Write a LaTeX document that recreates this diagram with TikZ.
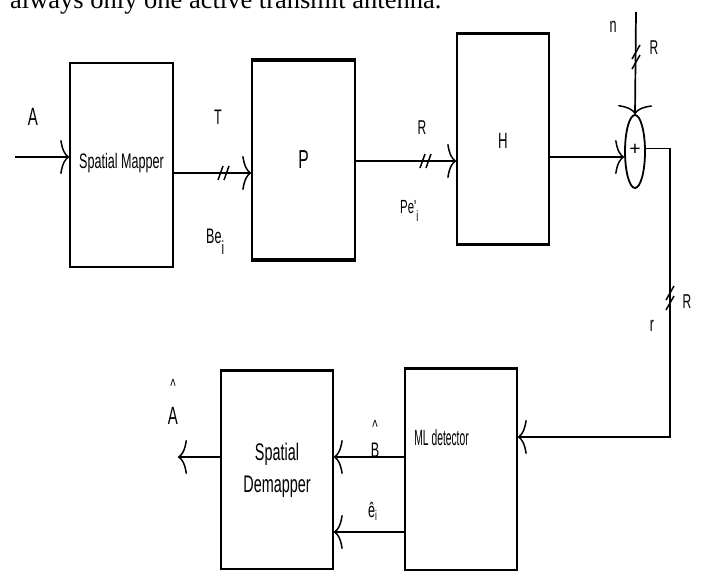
\documentclass[tikz,border=0pt]{standalone}
\usepackage{fontspec}
\setmainfont{Liberation Serif}
\newfontfamily\lblfont[FakeStretch=0.6]{Liberation Sans}
\usetikzlibrary{arrows.meta,shapes.geometric}

\tikzset{
  tip/.tip={Computer Modern Rightarrow[length=9pt,width=34pt,line width=1.5pt]},
  blk/.style={draw,line width=1.6pt,inner sep=0pt,font=\lblfont\fontsize{21}{24}\selectfont},
  lbl/.style={inner sep=0pt,font=\lblfont\fontsize{21}{24}\selectfont},
  sig/.style={line width=2.8pt,-tip},
  wire/.style={line width=1.7pt,-tip},
  busmark/.pic={\draw[line width=1.5pt] (-7,7) -- (-2,-7) (-1,7) -- (4,-7);},
  vbusmark/.pic={\draw[line width=1.5pt] (-4,2) -- (4,-12) (-4,12) -- (4,-2);},
}

\begin{document}
\begin{tikzpicture}[x=1pt,y=-1pt]
    \clip (0,0) rectangle (701,572);
    % line of text cut off at the top
    \node[anchor=base west,inner sep=0pt,font=\fontsize{26.5}{30}\selectfont] (toptext) at (10,9) {always only one active transmit antenna.};

    % Transmitter chain
    \node[blk,minimum width=103pt,minimum height=204pt] (mapper) at (121.5,165) {\raisebox{8pt}{Spatial Mapper}};
    \node[blk,minimum width=103pt,minimum height=198pt] (prec) at (303.5,160) {\fontsize{26}{28}\selectfont\raisebox{-17pt}{P}};
    \draw[line width=4pt] (prec.north west) -- (prec.north east);
    \draw[line width=4pt] (prec.south west) -- (prec.south east);
    \node[blk,minimum width=92pt,minimum height=210pt] (chan) at (503,139) {\fontsize{22}{24}\selectfont\raisebox{-19pt}{H}};
    \draw[line width=3pt] (chan.north west) -- (chan.north east);
    \draw[line width=3pt] (chan.south west) -- (chan.south east);
    \node[draw,ellipse,line width=1.8pt,minimum width=20pt,minimum height=73pt,inner sep=0pt,font=\bfseries\fontsize{20}{22}\selectfont] (sum) at (635,151.5) {\raisebox{3pt}{+}};

    % Receiver chain
    \node[blk,minimum width=112pt,minimum height=201pt] (det) at (461,469.5) {};
    \draw[line width=3pt] (det.north west) -- (det.north east);
    \node[lbl,anchor=west,font=\lblfont\fontsize{22}{24}\selectfont] (detname) at ([xshift=10pt,yshift=31.5pt]det.west) {\scalebox{0.78}[1]{ML detector}};
    \node[blk,minimum width=112pt,minimum height=198pt,align=center,font=\lblfont\fontsize{24}{38}\selectfont] (demap) at (277,470) {\raisebox{-6pt}{Spatial}\\ Demapper};
    \draw[line width=3pt] (demap.north west) -- (demap.north east);

    % Free ends
    \coordinate (ain) at (15,157);
    \coordinate (aout) at (178,457);
    \coordinate (nin) at (636,12);
    \coordinate (rc) at (670,437);

    % Connectors
    \draw[sig] (ain) -- (ain -| mapper.west);
    \draw[sig] ([yshift=-8pt]mapper.east) -- ([yshift=-13pt]prec.west);
    \draw[sig] ([yshift=-1pt]prec.east) -- ([yshift=-1pt]prec.east -| chan.west);
    \draw[sig] ([yshift=-18pt]chan.east) -- ([yshift=-18pt]chan.east -| sum.west);
    \draw[wire] (nin) -- (sum.north);
    \draw[wire] ([yshift=3pt]sum.east) -| (rc) -- (rc -| det.east);
    \draw[sig] ([yshift=12.5pt]det.west) -- ([yshift=13pt]demap.east);
    \draw[line width=2.2pt,-tip] ([yshift=-62.5pt]det.west) -- ([yshift=-62pt]demap.east);
    \draw[sig] (aout -| demap.west) -- (aout);

    % Bus marks
    \pic at (225,173) {busmark};
    \pic at (427,161) {busmark};
    \pic at (636,57) {vbusmark};
    \pic at (670,298) {vbusmark};

    % Labels
    \node[lbl,font=\lblfont\fontsize{25}{28}\selectfont] (lA) at (33,117) {A};
    \node[lbl] (lT) at (218,117) {T};
    \node[lbl,anchor=base west] (lBe) at (206,243) {Be\raisebox{-11pt}{\fontsize{19}{21}\selectfont i}};
    \node[lbl,font=\lblfont\fontsize{20}{22}\selectfont] (lR1) at (422,128) {R};
    \node[lbl,anchor=base west,font=\lblfont\fontsize{19}{21}\selectfont] (lPe) at (400,214) {Pe'\raisebox{-8pt}{\fontsize{15}{17}\selectfont i}};
    \node[lbl] (ln) at (613,27) {n};
    \node[lbl,font=\lblfont\fontsize{20}{22}\selectfont] (lR2) at (654,48) {R};
    \node[lbl,font=\lblfont\fontsize{20}{22}\selectfont] (lR3) at (687,302) {R};
    \node[lbl] (lr) at (652,326) {r};
    \node[lbl,align=center,font=\lblfont\fontsize{25}{28}\selectfont] (lAhat) at (173,402) {\fontsize{19}{19}\selectfont\textasciicircum\\[4pt] A};
    \node[lbl,align=center] (lBhat) at (375,439) {\fontsize{19}{19}\selectfont\textasciicircum\\[0pt] B};
    \node[lbl,anchor=base west] (lehat) at (368,517) {\^e\raisebox{-3pt}{\fontsize{14}{16}\selectfont i}};
\end{tikzpicture}
\end{document}
